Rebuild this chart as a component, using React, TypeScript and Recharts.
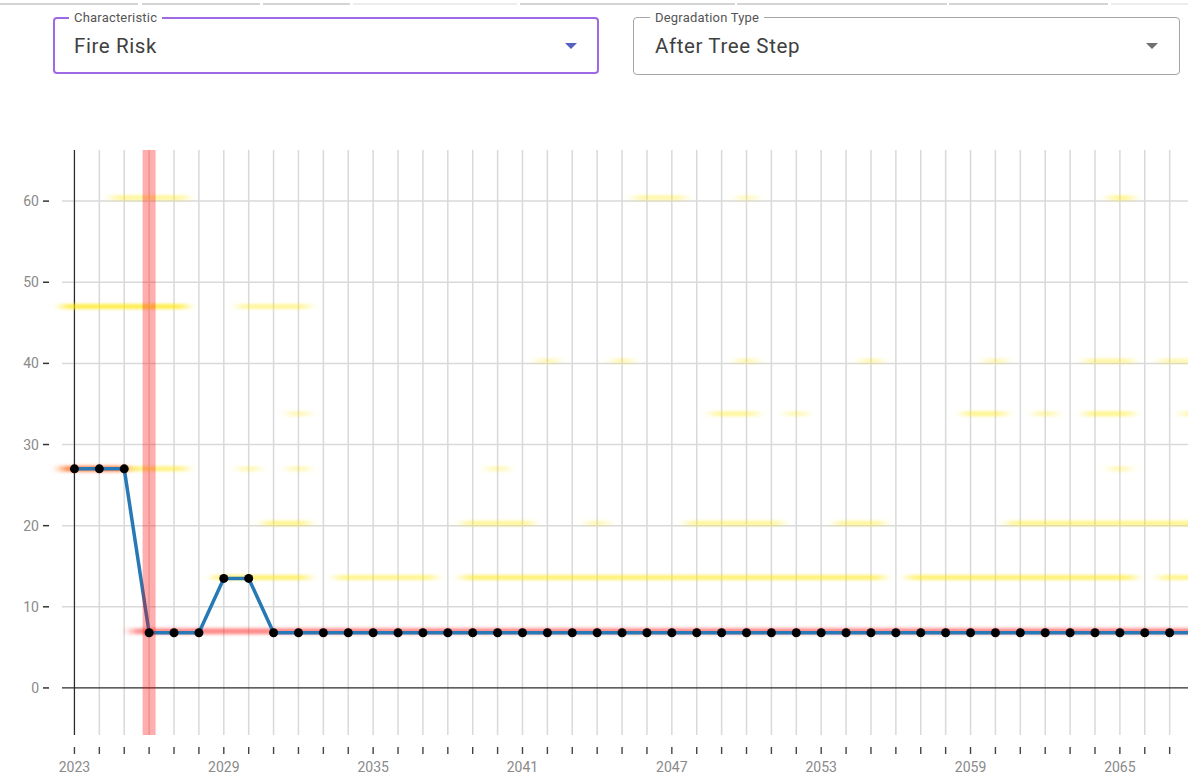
import React from 'react';
import { LineChart, Line, XAxis, YAxis, ReferenceLine } from 'recharts';

// ---- data ----
const years = [
  2023, 2024, 2025, 2026, 2027, 2028, 2029, 2030, 2031, 2032, 2033, 2034, 2035, 2036, 2037, 2038,
  2039, 2040, 2041, 2042, 2043, 2044, 2045, 2046, 2047, 2048, 2049, 2050, 2051, 2052, 2053, 2054,
  2055, 2056, 2057, 2058, 2059, 2060, 2061, 2062, 2063, 2064, 2065, 2066, 2067, 2068,
];
const fireRisk = [
  27, 27, 27, 6.8, 6.8, 6.8, 13.5, 13.5, 6.8, 6.8, 6.8, 6.8, 6.8, 6.8, 6.8, 6.8,
  6.8, 6.8, 6.8, 6.8, 6.8, 6.8, 6.8, 6.8, 6.8, 6.8, 6.8, 6.8, 6.8, 6.8, 6.8, 6.8,
  6.8, 6.8, 6.8, 6.8, 6.8, 6.8, 6.8, 6.8, 6.8, 6.8, 6.8, 6.8, 6.8, 6.8,
];
const yTicks = [0, 10, 20, 30, 40, 50, 60];
const labelEvery = 6;
const firstYear = 2023;
const treeStepYear = 2026;

// other trajectories (value, from year, to year, density)
const heatSegments: [number, number, number, number][] = [
  [60.4, 2024.5, 2027.5, 0.4], [60.4, 2045.5, 2047.5, 0.35], [60.4, 2049.6, 2050.4, 0.25], [60.4, 2064.6, 2065.5, 0.45],
  [47.0, 2022.5, 2027.5, 0.7], [47.0, 2029.6, 2032.4, 0.4],
  [40.3, 2041.6, 2042.4, 0.3], [40.3, 2044.6, 2045.4, 0.3], [40.3, 2049.6, 2050.4, 0.3], [40.3, 2054.6, 2055.4, 0.3],
  [40.3, 2059.6, 2060.4, 0.3], [40.3, 2063.6, 2065.5, 0.35], [40.3, 2066.6, 2068.5, 0.3],
  [33.8, 2031.6, 2032.4, 0.3], [33.8, 2048.6, 2050.4, 0.4], [33.8, 2051.6, 2052.4, 0.3], [33.8, 2058.7, 2060.4, 0.45],
  [33.8, 2061.6, 2062.4, 0.35], [33.8, 2063.6, 2065.5, 0.45], [33.8, 2067.5, 2068.5, 0.35],
  [27.0, 2022.5, 2027.5, 0.5], [27.0, 2029.6, 2030.4, 0.3], [27.0, 2031.6, 2032.4, 0.3], [27.0, 2039.6, 2040.4, 0.3],
  [27.0, 2064.6, 2065.4, 0.3],
  [20.3, 2030.6, 2032.4, 0.45], [20.3, 2038.6, 2041.4, 0.4], [20.3, 2043.6, 2044.4, 0.3], [20.3, 2047.6, 2051.4, 0.4],
  [20.3, 2053.6, 2055.5, 0.4], [20.3, 2060.5, 2068.5, 0.45],
  [13.6, 2028.6, 2032.4, 0.55], [13.6, 2033.5, 2037.5, 0.45], [13.6, 2038.6, 2055.5, 0.55], [13.6, 2056.5, 2065.6, 0.55],
  [13.6, 2066.6, 2068.5, 0.45],
];
// selected trajectory glow (value, from year, to year)
const selectedGlow: [number, number, number][] = [
  [27.0, 2022.5, 2025.1],
  [7.0, 2025.3, 2068.5],
];

const chartData = years.map((y, i) => ({ year: y, value: fireRisk[i] }));

const FONT = 'Roboto, "Noto Sans", sans-serif';

const glowShape = (color: string, width: number, opacity: number) => (props: any) => {
  const { x1, y1, x2, y2 } = props;
  if ([x1, y1, x2, y2].some((v) => v == null || Number.isNaN(v))) return <g />;
  return (
    <line
      x1={x1}
      y1={y1}
      x2={x2}
      y2={y2}
      stroke={color}
      strokeWidth={width}
      strokeOpacity={opacity}
      filter="url(#glowBlur)"
    />
  );
};

const XTick = (props: any) => {
  const { x, y, payload } = props;
  const v = payload.value;
  const show = (v - firstYear) % labelEvery === 0;
  return (
    <g>
      <line x1={x} x2={x} y1={y + 12} y2={y + 19} stroke="#444" strokeWidth={1.4} />
      {show && (
        <text x={x} y={y + 37} textAnchor="middle" fontSize={14} fontFamily={FONT} fill="#8a8a8a">
          {v}
        </text>
      )}
    </g>
  );
};

const YTick = (props: any) => {
  const { x, y, payload } = props;
  return (
    <g>
      <text x={x - 23} y={y + 5} textAnchor="end" fontSize={14} fontFamily={FONT} fill="#8a8a8a">
        {payload.value}
      </text>
      <line x1={x - 19} x2={x - 13} y1={y} y2={y} stroke="#333" strokeWidth={1.5} />
    </g>
  );
};

const Arrow = ({ color }: { color: string }) => (
  <svg width="12" height="7" viewBox="0 0 12 7" style={{ display: 'block' }}>
    <polygon points="0,0 12,0 6,6" fill={color} />
  </svg>
);

const topLineSegs: [number, number, string][] = [
  [0, 138, '#d4d4d4'], [142, 260, '#d4d4d4'], [263, 350, '#d4d4d4'], [353, 517, '#ececec'],
  [520, 735, '#d4d4d4'], [737, 947, '#d4d4d4'], [949, 1108, '#d4d4d4'], [1111, 1188, '#ececec'],
];

const labelStyle: React.CSSProperties = {
  position: 'absolute',
  top: 11,
  padding: '0 5px',
  background: '#fff',
  fontSize: 13,
  lineHeight: '14px',
  letterSpacing: 0.2,
  color: '#555',
};
const valueStyle: React.CSSProperties = {
  position: 'absolute',
  top: 34,
  fontSize: 20.5,
  lineHeight: '24px',
  color: '#404040',
  letterSpacing: 0.6,
};

export default function App() {
  return (
    <div
      style={{
        position: 'absolute',
        left: 0,
        top: 0,
        width: 1188,
        height: 778,
        overflow: 'hidden',
        background: '#fff',
        fontFamily: FONT,
      }}
    >
      <svg width="0" height="0" style={{ position: 'absolute' }}>
        <defs>
          <filter id="glowBlur" filterUnits="userSpaceOnUse" x="-200" y="-200" width="1700" height="1200">
            <feGaussianBlur stdDeviation="6 1.8" />
          </filter>
        </defs>
      </svg>

      {topLineSegs.map(([a, b, c], i) => (
        <div key={i} style={{ position: 'absolute', top: 3, left: a, width: b - a, height: 2, background: c }} />
      ))}

      {/* Characteristic select */}
      <div
        style={{
          position: 'absolute',
          left: 53,
          top: 17,
          width: 546,
          height: 57,
          border: '2px solid #9f68e4',
          borderRadius: 4,
          boxSizing: 'border-box',
        }}
      />
      <div style={{ ...labelStyle, left: 69 }}>Characteristic</div>
      <div style={{ ...valueStyle, left: 74 }}>Fire Risk</div>
      <div style={{ position: 'absolute', left: 565, top: 43 }}>
        <Arrow color="#5561c0" />
      </div>

      {/* Degradation Type select */}
      <div
        style={{
          position: 'absolute',
          left: 633,
          top: 17,
          width: 547,
          height: 58,
          border: '1px solid #a5a5a5',
          borderRadius: 4,
          boxSizing: 'border-box',
        }}
      />
      <div style={{ ...labelStyle, left: 650 }}>Degradation Type</div>
      <div style={{ ...valueStyle, left: 655 }}>After Tree Step</div>
      <div style={{ position: 'absolute', left: 1146, top: 43 }}>
        <Arrow color="#6f6f6f" />
      </div>

      <div style={{ position: 'absolute', left: 0, top: 0 }}>
        <LineChart width={1208} height={778} data={chartData} margin={{ top: 150, right: 1, bottom: 0, left: 0 }}>
          <XAxis
            dataKey="year"
            type="number"
            domain={[2022.5, 2068.5]}
            ticks={years}
            interval={0}
            height={43}
            axisLine={false}
            tickLine={false}
            tickSize={0}
            tickMargin={0}
            tick={<XTick />}
            allowDataOverflow
          />
          <YAxis
            type="number"
            domain={[-5.8, 66.3]}
            ticks={yTicks}
            width={62}
            axisLine={false}
            tickLine={false}
            tickSize={0}
            tickMargin={0}
            tick={<YTick />}
            allowDataOverflow
          />
          {/* grid */}
          {years.map((yr) => (
            <ReferenceLine key={'gx' + yr} x={yr} stroke="#d9d9d9" strokeWidth={1.5} />
          ))}
          {yTicks.filter((t) => t !== 0).map((t) => (
            <ReferenceLine key={'gy' + t} y={t} stroke="#d9d9d9" strokeWidth={1.5} />
          ))}
          <ReferenceLine y={0} stroke="#2b2b2b" strokeWidth={1.2} />
          <ReferenceLine x={firstYear} stroke="#2b2b2b" strokeWidth={1.2} />
          {heatSegments.map(([v, a, b, d], i) => (
            <ReferenceLine
              key={'h' + i}
              segment={[{ x: a, y: v }, { x: b, y: v }]}
              ifOverflow="visible"
              shape={glowShape('#ffe600', 5, d)}
            />
          ))}
          {selectedGlow.map(([v, a, b], i) => (
            <ReferenceLine
              key={'r' + i}
              segment={[{ x: a, y: v }, { x: b, y: v }]}
              ifOverflow="visible"
              shape={glowShape('#ff2a2a', 6, 0.55)}
            />
          ))}
          <Line
            dataKey="value"
            stroke="#2779b5"
            strokeWidth={3.5}
            dot={{ r: 4.5, fill: '#000', stroke: '#000', strokeWidth: 0 }}
            activeDot={false}
            isAnimationActive={false}
          />
          <ReferenceLine x={treeStepYear} stroke="#ff0000" strokeOpacity={0.32} strokeWidth={13} />
        </LineChart>
      </div>
    </div>
  );
}
